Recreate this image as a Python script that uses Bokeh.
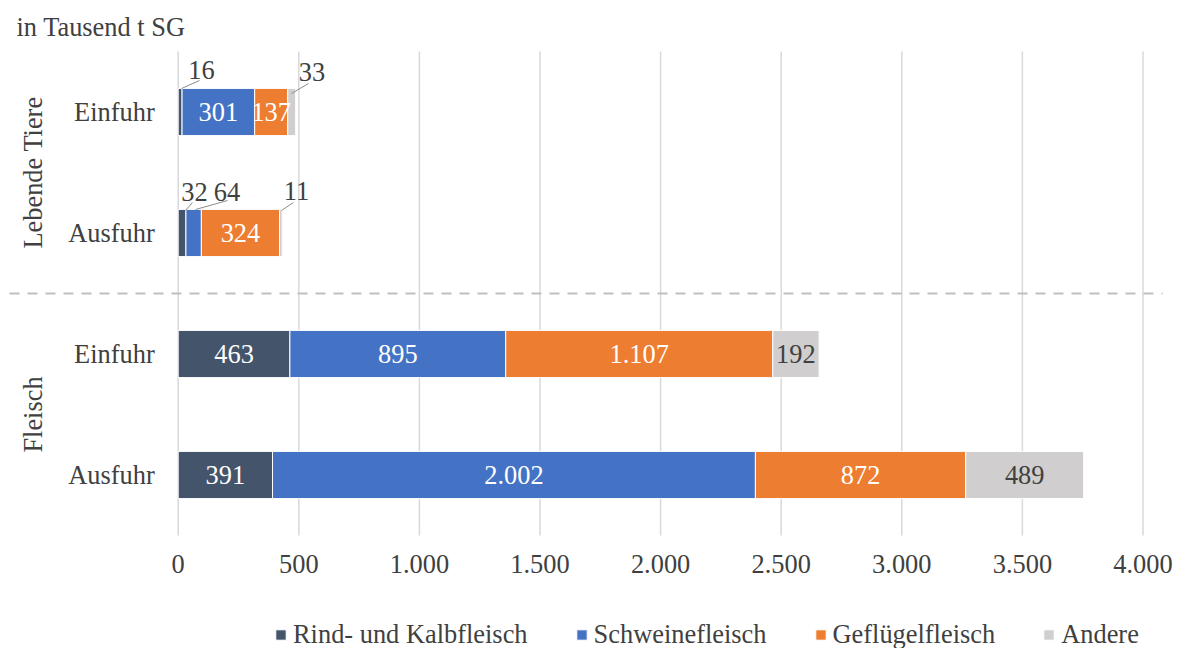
import numpy as np
from bokeh.plotting import figure
from bokeh.models import ColumnDataSource, Legend, LegendItem
from bokeh.core.properties import value
from bokeh.embed import file_html
from bokeh.resources import INLINE

# ---------------- data ----------------
groups = ["Lebende Tiere", "Lebende Tiere", "Fleisch", "Fleisch"]
rows = ["Einfuhr", "Ausfuhr", "Einfuhr", "Ausfuhr"]
series = ["Rind- und Kalbfleisch", "Schweinefleisch", "Geflügelfleisch", "Andere"]
rind = [16, 32, 463, 391]
schwein = [301, 64, 895, 2002]
gefluegel = [137, 324, 1107, 872]
andere = [33, 11, 192, 489]
x_ticks = [0, 500, 1000, 1500, 2000, 2500, 3000, 3500, 4000]
unit_text = "in Tausend t SG"

# ---------------- style / layout ----------------
FONT = "Liberation Serif"
FS = "26.4px"
TXT = "#404040"
colors = ["#44546A", "#4472C4", "#ED7D31", "#D0CECE"]
label_colors = ["white", "white", "white", TXT]

W, H = 1182, 648
PX0 = 177.7                 # screen x of value 0
PXU = 964.8 / 4000          # screen px per value unit
PLOT_TOP, PLOT_BOTTOM = 51, 535
n = len(rows)
PYU = (PLOT_BOTTOM - PLOT_TOP) / n   # screen px per row unit

X0 = -PX0 / PXU
X1 = (W - PX0) / PXU
Y0 = -(H - PLOT_BOTTOM) / PYU
Y1 = n + PLOT_TOP / PYU
ux = 1 / PXU
uy = 1 / PYU


def de(v):
    return f"{v:,}".replace(",", ".")


ypos = [n - i - 0.5 for i in range(n)]
keys = ["s0", "s1", "s2", "s3"]
values = [rind, schwein, gefluegel, andere]
src = ColumnDataSource(dict(y=ypos, **{k: v for k, v in zip(keys, values)}))

p = figure(width=W, height=H, x_range=(X0, X1), y_range=(Y0, Y1),
           x_axis_location=None, y_axis_location=None,
           toolbar_location=None, output_backend="svg",
           min_border=0)
p.outline_line_color = None
p.background_fill_color = "white"
p.border_fill_color = "white"
p.xgrid.visible = False
p.ygrid.visible = False

# vertical gridlines at the x ticks
p.segment(x0=x_ticks, y0=[0] * len(x_ticks), x1=x_ticks, y1=[n] * len(x_ticks),
          line_color="#d9d9d9", line_width=1.5)

rs = p.hbar_stack(keys, y="y", height=0.39, color=colors,
                  line_color="white", line_width=1, source=src)

# dashed separator between the two groups
sep = (ypos[1] + ypos[2]) / 2
p.segment(x0=[X0 + 9 * ux], y0=[sep], x1=[X0 + 1162 * ux], y1=[sep],
          line_color="#bfbfbf", line_width=2, line_dash="10 8")

# x tick labels
p.text(x=x_ticks, y=[0] * len(x_ticks), text=[de(t) for t in x_ticks],
       y_offset=19, text_align="center", text_baseline="top",
       text_font=value(FONT), text_font_size=value(FS), text_color=TXT)

# data labels (small segments get outside labels with leader lines)
outside = {
    (0, 0): (21.4, -42.5, (1.4, -23.5, 19.4, -31.5)),
    (0, 3): (20.3, -40.0, (-0.2, -18.5, 16.8, -28.5)),
    (1, 0): (12.4, -41.0, (3.4, -22.5, 10.4, -30.5)),
    (1, 1): (33.4, -41.0, (1.9, -23.5, 33.9, -32.5)),
    (1, 3): (15.6, -42.0, (0.6, -22.5, 12.6, -30.5)),
}
lab = dict(x=[], y=[], t=[], c=[], xo=[], yo=[])
seg = dict(x0=[], y0=[], x1=[], y1=[])
for i in range(n):
    start = 0
    for j in range(len(values)):
        v = values[j][i]
        mid = start + v / 2
        start += v
        lab["x"].append(mid)
        lab["y"].append(ypos[i])
        lab["t"].append(de(v))
        if (i, j) in outside:
            dx, dy, (a, b, c, d) = outside[(i, j)]
            lab["c"].append(TXT)
            lab["xo"].append(dx)
            lab["yo"].append(dy)
            seg["x0"].append(mid + a * ux)
            seg["y0"].append(ypos[i] - b * uy)
            seg["x1"].append(mid + c * ux)
            seg["y1"].append(ypos[i] - d * uy)
        else:
            lab["c"].append(label_colors[j])
            lab["xo"].append(0)
            lab["yo"].append(0)

p.segment(x0="x0", y0="y0", x1="x1", y1="y1", source=ColumnDataSource(seg),
          line_color="#8c8c8c", line_width=1)
p.text(x="x", y="y", text="t", text_color="c", x_offset="xo", y_offset="yo",
       source=ColumnDataSource(lab), text_align="center",
       text_baseline="middle", text_font=value(FONT),
       text_font_size=value(FS))

# category labels
p.text(x=[0] * n, y=ypos, text=rows, x_offset=-23.5, text_align="right",
       text_baseline="middle", text_font=value(FONT),
       text_font_size=value(FS), text_color=TXT)

ug = []
for g in groups:
    if g not in ug:
        ug.append(g)
gy = [float(np.mean([ypos[i] for i in range(n) if groups[i] == g])) for g in ug]
p.text(x=[0] * len(ug), y=gy, text=ug, angle=np.pi / 2, x_offset=-144.7,
       text_align="center", text_baseline="alphabetic", text_font=value(FONT),
       text_font_size=value(FS), text_color=TXT)

# unit title
p.text(x=[0], y=[n], text=[unit_text], x_offset=16 - PX0, y_offset=26.7 - PLOT_TOP,
       text_align="left", text_baseline="alphabetic", text_font=value(FONT),
       text_font_size=value(FS), text_color=TXT)

legend = Legend(items=[LegendItem(label=s, renderers=[r]) for s, r in zip(series, rs)],
                orientation="horizontal", location=(274, -2),
                label_text_font=FONT, label_text_font_size=FS,
                label_text_color=TXT, glyph_width=13, glyph_height=13,
                label_standoff=6, spacing=47, padding=0, margin=0,
                border_line_color=None, background_fill_alpha=0,
                label_height=26)
p.add_layout(legend)

open("out.html", "w").write(file_html(p, INLINE))
